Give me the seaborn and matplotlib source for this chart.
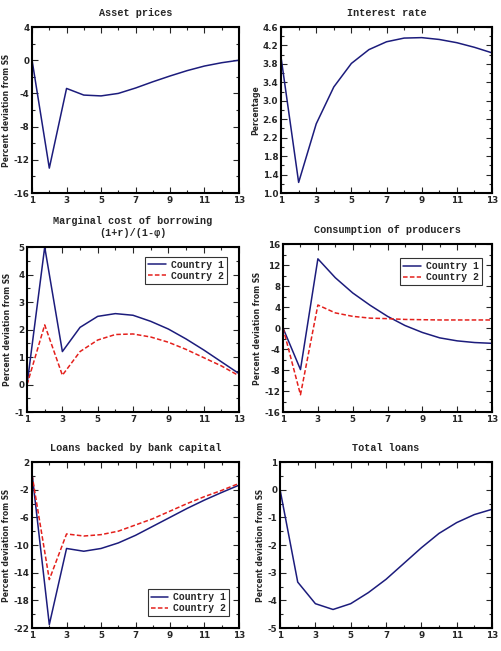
import numpy as np
import pandas as pd
import seaborn as sns
import matplotlib.pyplot as plt
from matplotlib.ticker import MultipleLocator, FormatStrFormatter

# Quarters after the shock
periods = list(range(1, 14))

# Single-series panels
asset_prices = [0.0, -13.0, -3.4, -4.2, -4.3, -4.0, -3.35, -2.6, -1.9, -1.25, -0.7, -0.3, 0.0]
interest_rate = [3.94, 1.23, 2.5, 3.3, 3.81, 4.11, 4.28, 4.36, 4.37, 4.33, 4.26, 4.16, 4.04]
total_loans = [0.0, -3.34, -4.12, -4.33, -4.12, -3.72, -3.24, -2.67, -2.1, -1.58, -1.19, -0.9, -0.71]

# Two-country panels
mcb_c1 = [0.0, 5.0, 1.2, 2.08, 2.48, 2.58, 2.52, 2.3, 2.02, 1.66, 1.26, 0.83, 0.4]
mcb_c2 = [0.0, 2.17, 0.34, 1.2, 1.62, 1.82, 1.84, 1.73, 1.54, 1.28, 0.98, 0.68, 0.32]
cons_c1 = [0.0, -7.9, 13.2, 9.6, 6.7, 4.35, 2.24, 0.5, -0.83, -1.86, -2.43, -2.75, -2.9]
cons_c2 = [0.0, -12.7, 4.4, 2.9, 2.24, 1.9, 1.8, 1.65, 1.6, 1.55, 1.55, 1.55, 1.55]
bank_c1 = [0.3, -21.5, -10.5, -10.9, -10.5, -9.7, -8.6, -7.3, -6.0, -4.7, -3.5, -2.4, -1.35]
bank_c2 = [0.1, -15.0, -8.4, -8.7, -8.5, -8.0, -7.1, -6.2, -5.1, -4.0, -3.0, -2.1, -1.1]

countries = ['Country 1', 'Country 2']
blue = '#1c1c7c'
red = '#e4201c'

sns.set_style('ticks')
plt.rcParams['font.family'] = ['Liberation Mono', 'DejaVu Sans']
plt.rcParams['axes.unicode_minus'] = False

fig = plt.figure(figsize=(5.01, 6.51), dpi=100)

# panel positions [left, bottom, width, height] in figure fractions
positions = [
    [0.064, 0.7035, 0.413, 0.255],
    [0.561, 0.7035, 0.421, 0.255],
    [0.054, 0.367, 0.423, 0.2535],
    [0.565, 0.367, 0.417, 0.258],
    [0.064, 0.0353, 0.413, 0.255],
    [0.559, 0.0353, 0.423, 0.255],
]
axes = [fig.add_axes(p) for p in positions]


def two_country(c1, c2):
    return pd.DataFrame({
        'period': periods * 2,
        'value': c1 + c2,
        'country': [countries[0]] * 13 + [countries[1]] * 13,
    })


def style_axis(ax, title, ylabel, ylim, ymajor, yminor, yoffset=0, yfmt=None):
    ax.set_xlim(1, 13)
    ax.set_ylim(*ylim)
    ax.xaxis.set_major_locator(MultipleLocator(2, offset=1))
    ax.xaxis.set_minor_locator(MultipleLocator(1))
    ax.yaxis.set_major_locator(MultipleLocator(ymajor, offset=yoffset))
    ax.yaxis.set_minor_locator(MultipleLocator(yminor))
    if yfmt:
        ax.yaxis.set_major_formatter(FormatStrFormatter(yfmt))
    ax.tick_params(which='both', direction='in', top=True, right=True,
                   width=0.8, pad=2)
    ax.tick_params(which='major', length=4)
    ax.tick_params(which='minor', length=2)
    for lab in ax.get_xticklabels() + ax.get_yticklabels():
        lab.set_fontfamily('DejaVu Sans')
        lab.set_fontweight('bold')
        lab.set_fontsize(6.3)
    for s in ax.spines.values():
        s.set_linewidth(1.5)
        s.set_color('black')
    ax.set_title(title, fontsize=7.3, fontweight='bold', pad=8, linespacing=1.25)
    ax.set_xlabel('')
    ax.set_ylabel(ylabel, fontfamily='DejaVu Sans', fontweight='bold',
                  fontsize=5.5, labelpad=2)


def add_legend(ax, anchor):
    leg = ax.legend(loc='center', bbox_to_anchor=anchor, frameon=True,
                    fancybox=False, edgecolor='black',
                    handlelength=1.8, borderpad=0.3, labelspacing=0.1,
                    handletextpad=0.5, prop={'weight': 'bold', 'size': 7})
    leg.get_frame().set_linewidth(0.8)


# Asset prices
sns.lineplot(x=periods, y=asset_prices, color=blue, linewidth=1.1, ax=axes[0])
style_axis(axes[0], 'Asset prices', 'Percent deviation from SS', (-16, 4), 4, 2)

# Interest rate
sns.lineplot(x=periods, y=interest_rate, color=blue, linewidth=1.1, ax=axes[1])
style_axis(axes[1], 'Interest rate', 'Percentage', (1.0, 4.6), 0.4, 0.2,
           yoffset=0.2, yfmt='%.1f')

# Marginal cost of borrowing
sns.lineplot(data=two_country(mcb_c1, mcb_c2), x='period', y='value', hue='country',
             style='country', palette=[blue, red], dashes=[(None, None), (3, 1.5)],
             linewidth=1.1, ax=axes[2])
style_axis(axes[2], 'Marginal cost of borrowing\n(1+r)/(1-\u03c6)',
           'Percent deviation from SS', (-1, 5), 1, 0.5)
add_legend(axes[2], (0.75, 0.86))

# Consumption of producers
sns.lineplot(data=two_country(cons_c1, cons_c2), x='period', y='value', hue='country',
             style='country', palette=[blue, red], dashes=[(None, None), (3, 1.5)],
             linewidth=1.1, ax=axes[3])
style_axis(axes[3], 'Consumption of producers', 'Percent deviation from SS',
           (-16, 16), 4, 2)
add_legend(axes[3], (0.756, 0.836))

# Loans backed by bank capital
sns.lineplot(data=two_country(bank_c1, bank_c2), x='period', y='value', hue='country',
             style='country', palette=[blue, red], dashes=[(None, None), (3, 1.5)],
             linewidth=1.1, ax=axes[4])
style_axis(axes[4], 'Loans backed by bank capital', 'Percent deviation from SS',
           (-22, 2), 4, 2, yoffset=2)
add_legend(axes[4], (0.756, 0.154))

# Total loans
sns.lineplot(x=periods, y=total_loans, color=blue, linewidth=1.1, ax=axes[5])
style_axis(axes[5], 'Total loans', 'Percent deviation from SS', (-5, 1), 1, 0.5)

fig.savefig('out.png', dpi=100)
